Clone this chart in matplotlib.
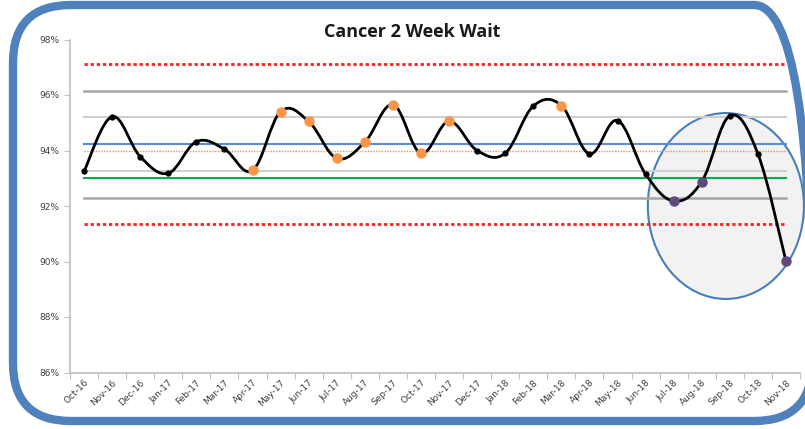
import numpy as np
import matplotlib
matplotlib.use('Agg')
import matplotlib.pyplot as plt
from matplotlib.path import Path
from matplotlib.patches import PathPatch, Ellipse, FancyBboxPatch
from matplotlib.ticker import FixedLocator, FuncFormatter

months = ['Oct-16', 'Nov-16', 'Dec-16', 'Jan-17', 'Feb-17', 'Mar-17', 'Apr-17',
          'May-17', 'Jun-17', 'Jul-17', 'Aug-17', 'Sep-17', 'Oct-17', 'Nov-17',
          'Dec-17', 'Jan-18', 'Feb-18', 'Mar-18', 'Apr-18', 'May-18', 'Jun-18',
          'Jul-18', 'Aug-18', 'Sep-18', 'Oct-18', 'Nov-18']
values = [93.25, 95.22, 93.78, 93.18, 94.32, 94.05, 93.28,
          95.40, 95.05, 93.72, 94.30, 95.65, 93.90, 95.05,
          94.00, 93.90, 95.60, 95.62, 93.88, 95.08, 93.15,
          92.18, 92.88, 95.25, 93.88, 90.02]
# n = normal, o = orange highlight, p = purple highlight
flags = ['n', 'n', 'n', 'n', 'n', 'n', 'o',
         'o', 'o', 'o', 'o', 'o', 'o', 'o',
         'n', 'n', 'n', 'o', 'n', 'n', 'n',
         'p', 'p', 'n', 'n', 'p']

mean = 94.23
sigma = 0.963
target = 93.0
median = 94.0
yticks = [86, 88, 90, 92, 94, 96, 98]

fig = plt.figure(figsize=(8.05, 4.29), dpi=100)
ax = fig.add_axes([70/805, 1-372.5/429, 730/805, 333/429])

x = np.arange(len(months))
n = len(x)

# highlight ellipse around the recent drop
ell = Ellipse((22.86, 92.0), 5.56, 6.7, facecolor='#f2f2f2', edgecolor='#4a7ebb',
              lw=1.5, zorder=1, clip_on=False)
ax.add_patch(ell)

# control lines
ax.plot(x, np.full(n, mean + 3*sigma), color='#ff2020', lw=2, ls=(0, (1.2, 1.0)), zorder=2)
ax.plot(x, np.full(n, mean - 3*sigma), color='#ff2020', lw=2, ls=(0, (1.2, 1.0)), zorder=2)
ax.plot(x, np.full(n, mean + 2*sigma), color='#a6a6a6', lw=1.8, zorder=2)
ax.plot(x, np.full(n, mean - 2*sigma), color='#a6a6a6', lw=1.8, zorder=2)
ax.plot(x, np.full(n, mean + sigma), color='#cfcfcf', lw=1.5, zorder=2)
ax.plot(x, np.full(n, mean - sigma), color='#cfcfcf', lw=1.5, zorder=2)
ax.plot(x, np.full(n, mean), color='#5b8ed0', lw=1.5, zorder=2)
ax.plot(x, np.full(n, median), color='#f79646', lw=1, ls=(0, (1, 1)), zorder=2)
ax.plot(x, np.full(n, target), color='#00b050', lw=1.5, zorder=2)

# smoothed line (catmull-rom style bezier like Excel)
pts = np.column_stack([x, values]).astype(float)
ext = np.vstack([pts[0], pts, pts[-1]])
verts = [pts[0]]
codes = [Path.MOVETO]
for i in range(n - 1):
    p0, p1, p2, p3 = ext[i], ext[i+1], ext[i+2], ext[i+3]
    c1 = p1 + (p2 - p0) / 5.5
    c2 = p2 - (p3 - p1) / 5.5
    verts += [c1, c2, p2]
    codes += [Path.CURVE4] * 3
ax.add_patch(PathPatch(Path(verts, codes), facecolor='none', edgecolor='black',
                       lw=2, zorder=3, capstyle='round'))

vals = np.array(values)
fl = np.array(flags)
m = fl == 'n'
ax.plot(x[m], vals[m], 'o', color='black', ms=3.5, zorder=4)
m = fl == 'o'
ax.plot(x[m], vals[m], 'o', color='#f79646', ms=6.5, zorder=4)
m = fl == 'p'
ax.plot(x[m], vals[m], 'o', color='#604a7b', ms=6.5, zorder=4)

ax.set_xlim(-0.5, n - 0.5)
ax.set_ylim(86, 98)
ax.set_yticks(yticks)
ax.yaxis.set_major_formatter(FuncFormatter(lambda v, p: f'{v:.0f}%'))
ax.xaxis.set_major_locator(FixedLocator(np.arange(n + 1) - 0.5))
ax.xaxis.set_minor_locator(FixedLocator(x))
ax.set_xticklabels([], minor=False)
ax.set_xticklabels(months, minor=True, rotation=45, ha='right', va='top',
                   rotation_mode='anchor', fontsize=6.5, color='#404040')
ax.tick_params(axis='x', which='minor', length=0, pad=4)
ax.tick_params(axis='x', which='major', length=4, color='#bfbfbf')
ax.tick_params(axis='y', length=4, color='#bfbfbf', labelsize=6.5, labelcolor='#404040')
for s in ['top', 'right']:
    ax.spines[s].set_visible(False)
for s in ['left', 'bottom']:
    ax.spines[s].set_color('#bfbfbf')
    ax.spines[s].set_linewidth(1.2)

fig.text(412/805, 1 - 32/429, 'Cancer 2 Week Wait', ha='center', va='center',
         fontsize=13, fontweight='bold', family='Open Sans', color='#1a1a1a')

# rounded frame
frame = FancyBboxPatch((13, 8), 799, 416, boxstyle='round,pad=0,rounding_size=58',
                       transform=None, facecolor='none', edgecolor='#4f81bd', lw=6)
fig.add_artist(frame)

fig.savefig('out.png', dpi=100)
